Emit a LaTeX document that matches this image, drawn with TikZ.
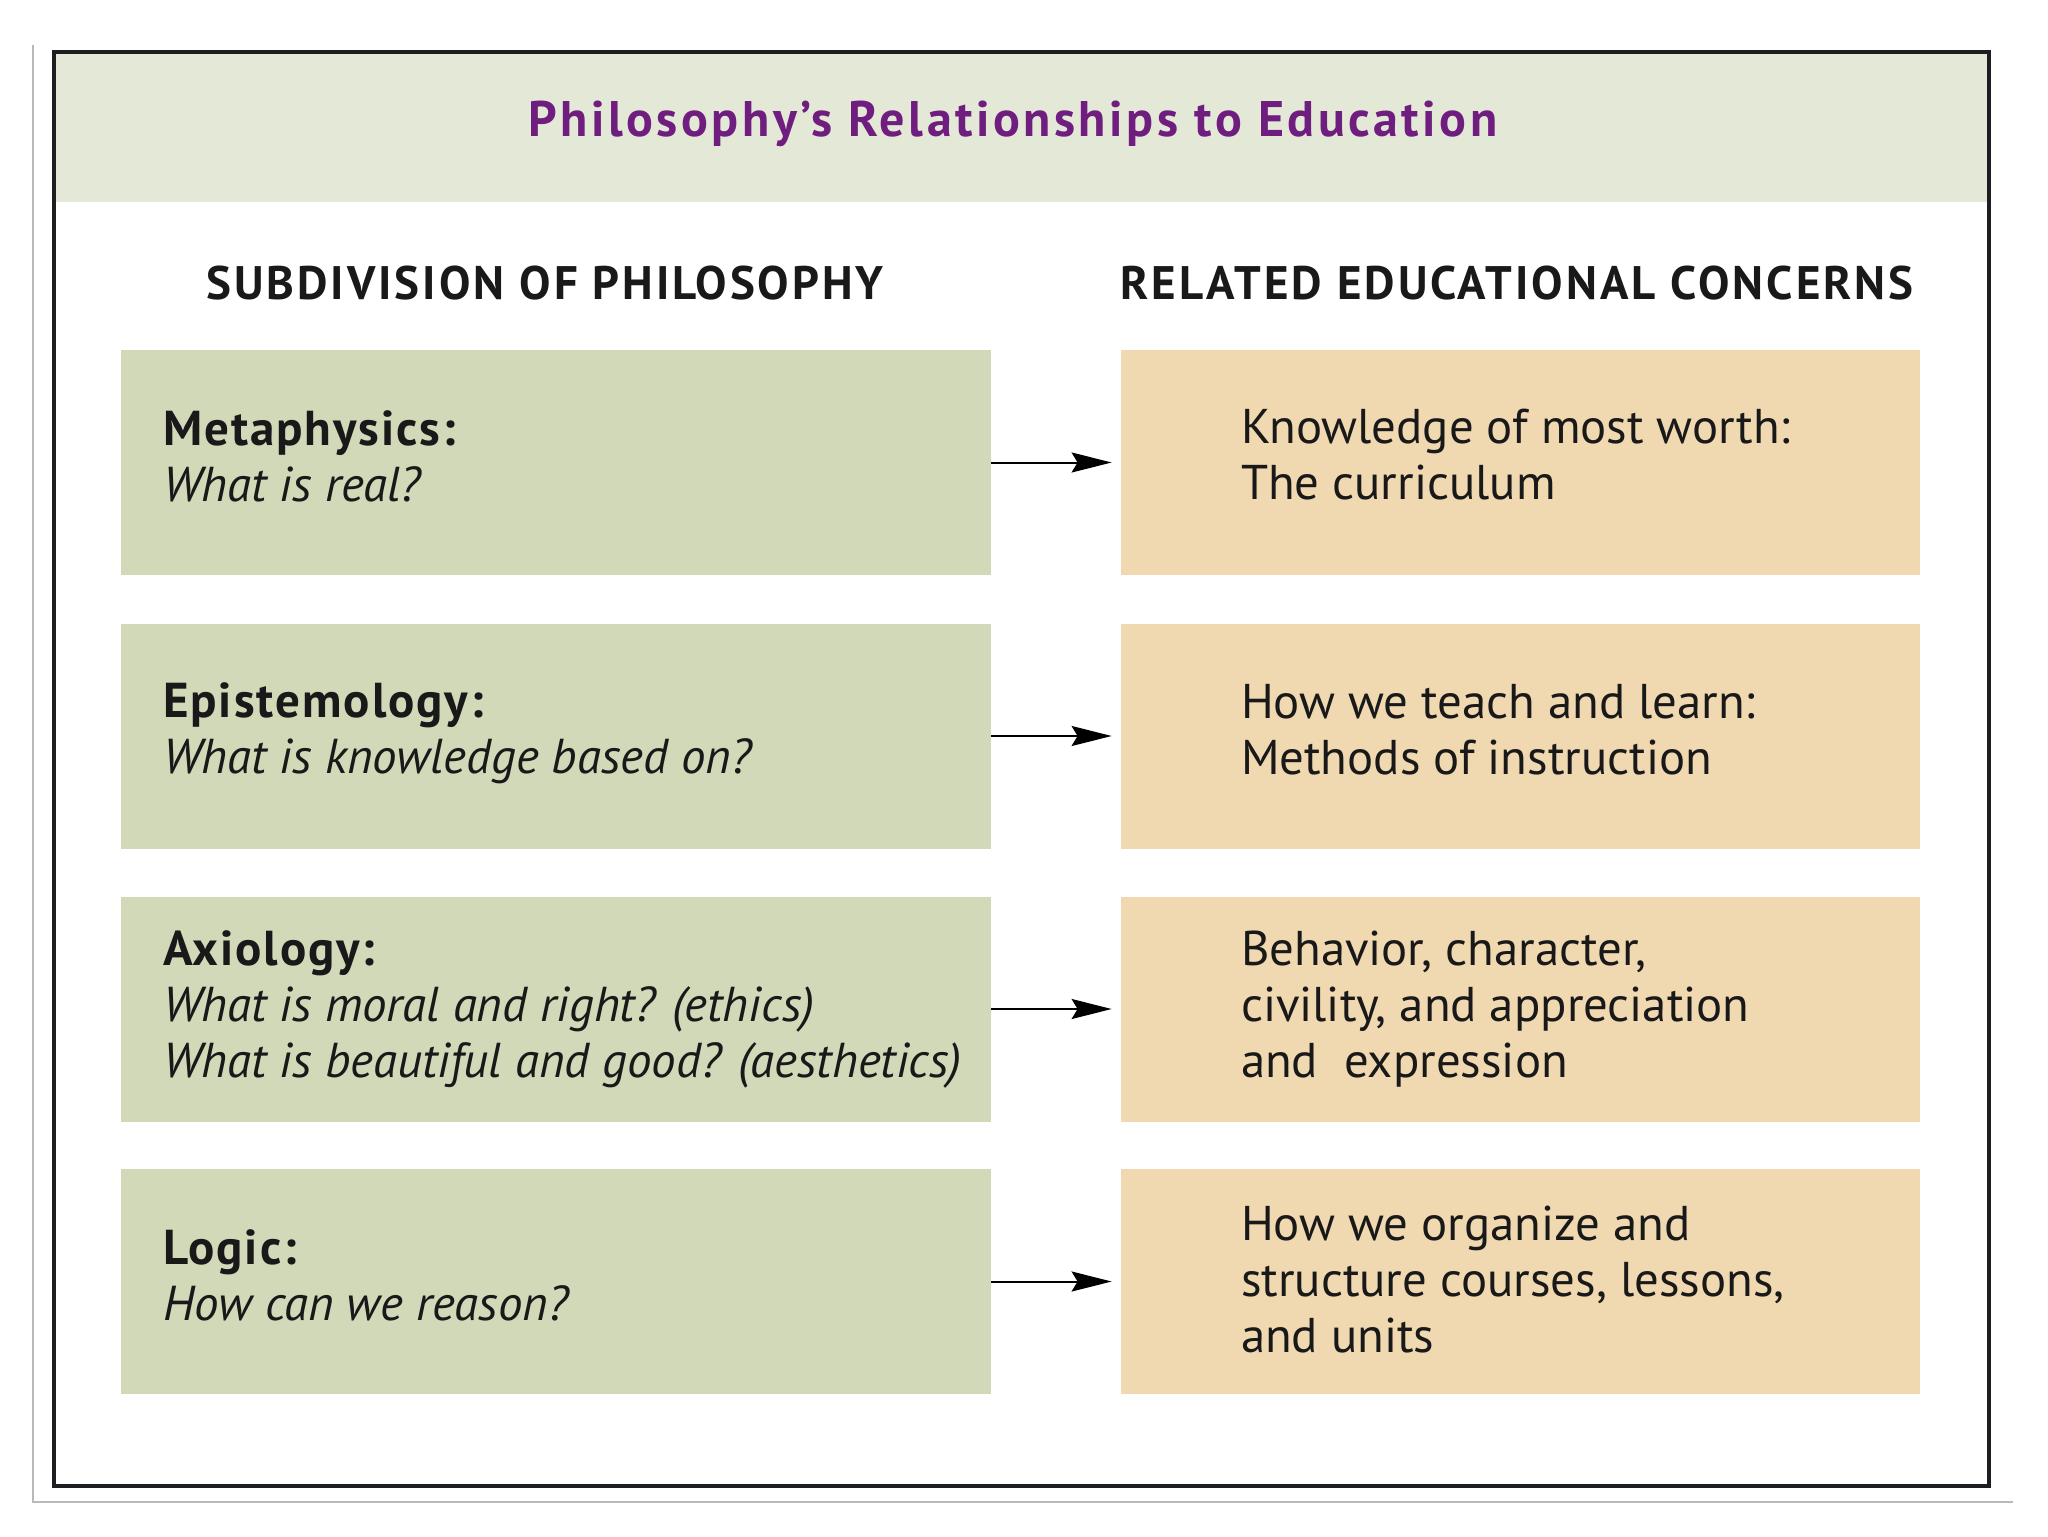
\documentclass[tikz,border=0pt]{standalone}
\usepackage{fontspec}
\setmainfont{PT Sans}
\usetikzlibrary{arrows.meta}
\definecolor{bandgreen}{HTML}{E4E9D7}
\definecolor{boxgreen}{HTML}{D2D9B9}
\definecolor{boxtan}{HTML}{F0D9B1}
\definecolor{titlepurple}{HTML}{6F1E80}
\definecolor{framedark}{HTML}{1E1E22}
\newcommand{\hd}[1]{{\fontsize{24.5}{28}\selectfont\bfseries\addfontfeatures{LetterSpace=4}#1}}
\newcommand{\qq}[1]{{\fontsize{24.5}{28}\selectfont\itshape #1}}
\tikzset{
  lbox/.style={fill=boxgreen, draw=none, minimum width=435pt, minimum height=112.5pt, inner sep=0pt},
  rbox/.style={fill=boxtan, draw=none, minimum width=399.5pt, minimum height=112.5pt, inner sep=0pt},
  ltext/.style={anchor=west, align=left, inner sep=0pt, font=\fontsize{24.5}{28}\selectfont, text=black!90},
  rtext/.style={anchor=west, align=left, inner sep=0pt, font=\fontsize{24.4}{28}\selectfont, text=black!90},
  colhead/.style={anchor=base, inner sep=0pt, font=\fontsize{23.5}{28}\selectfont\bfseries\addfontfeatures{LetterSpace=6.4}, text=black!90},
  link/.style={line width=1pt, -{Stealth[length=20pt,width=10pt,inset=3pt]}, shorten >=4.5pt}
}
\begin{document}
\begin{tikzpicture}[x=0.5pt,y=-0.5pt]
\useasboundingbox (0,0) rectangle (2048,1536);
\fill[white] (0,0) rectangle (2048,1536);
% faint outer lines
\draw[gray!55, line width=0.6pt] (33,45) -- (33,1502) -- (2013,1502);
% header band
\fill[bandgreen] (55,53) rectangle (1988,202);
% frame
\draw[framedark, line width=2pt] (54,52) rectangle (1989,1486);
% title
\node[anchor=base, inner sep=0pt, font=\fontsize{25}{28}\selectfont\bfseries\addfontfeatures{LetterSpace=7}, text=titlepurple] (title) at (1013,136) {Philosophy’s Relationships to Education};
% column headers
\node[colhead] (hl) at (545,299) {SUBDIVISION OF PHILOSOPHY};
\node[colhead] (hr) at (1517,299) {RELATED EDUCATIONAL CONCERNS};
% left boxes
\node[lbox] (l1) at (556,462.5) {};
\node[lbox] (l2) at (556,736) {};
\node[lbox] (l3) at (556,1009) {};
\node[lbox] (l4) at (556,1281.5) {};
% right boxes
\node[rbox] (r1) at (1520.5,462.5) {};
\node[rbox] (r2) at (1520.5,736) {};
\node[rbox] (r3) at (1520.5,1009) {};
\node[rbox] (r4) at (1520.5,1281.5) {};
% left texts
\node[ltext] (t1) at ([xshift=21pt,yshift=3pt]l1.west) {\hd{Metaphysics:}\\\qq{What is real?}};
\node[ltext] (t2) at ([xshift=21pt,yshift=1.5pt]l2.west) {\hd{Epistemology:}\\\qq{What is knowledge based on?}};
\node[ltext] (t3) at ([xshift=21pt]l3.west) {\hd{Axiology:}\\\qq{What is moral and right? (ethics)}\\\qq{What is beautiful and good? (aesthetics)}};
\node[ltext] (t4) at ([xshift=21pt,yshift=3pt]l4.west) {\hd{Logic:}\\\qq{How can we reason?}};
% right texts
\node[rtext] (u1) at ([xshift=60pt,yshift=4pt]r1.west) {Knowledge of most worth:\\The curriculum};
\node[rtext] (u2) at ([xshift=60pt,yshift=3pt]r2.west) {How we teach and learn:\\Methods of instruction};
\node[rtext] (u3) at ([xshift=60pt]r3.west) {Behavior, character,\\civility, and appreciation\\and\ \ expression};
\node[rtext] (u4) at ([xshift=60pt,yshift=1pt]r4.west) {How we organize and\\structure courses, lessons,\\and units};
% arrows
\draw[link] (l1.east) -- (r1.west);
\draw[link] (l2.east) -- (r2.west);
\draw[link] (l3.east) -- (r3.west);
\draw[link] (l4.east) -- (r4.west);
\end{tikzpicture}
\end{document}
